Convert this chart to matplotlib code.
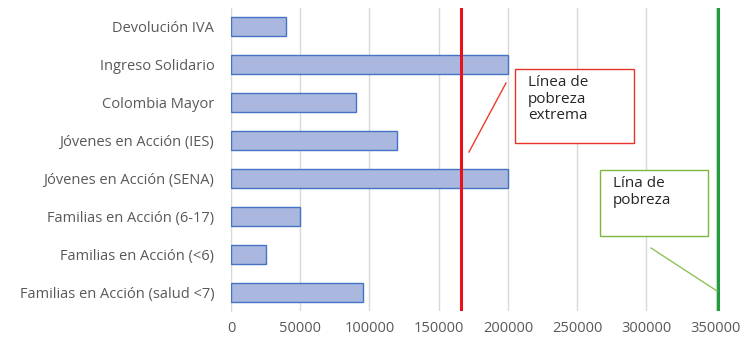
import matplotlib.pyplot as plt
from matplotlib.lines import Line2D
from matplotlib.patches import Rectangle

programas = ['Devolución IVA', 'Ingreso Solidario', 'Colombia Mayor',
             'Jóvenes en Acción (IES)', 'Jóvenes en Acción (SENA)',
             'Familias en Acción (6-17)', 'Familias en Acción (<6)',
             'Familias en Acción (salud <7)']
montos = [40000, 200000, 90000, 120000, 200000, 50000, 25000, 95000]
xticks = [0, 50000, 100000, 150000, 200000, 250000, 300000, 350000]

linea_extrema = 166000
linea_pobreza = 352000

plt.rcParams['font.family'] = ['Open Sans', 'DejaVu Sans']

fig = plt.figure(figsize=(7.46, 3.47), dpi=100)
ax = fig.add_axes([231 / 746, 1 - 311 / 347, 493 / 746, 303 / 347])

y = list(range(len(programas)))
ax.barh(y, montos, height=0.5, color='#AAB8E0', edgecolor='#4472C4', linewidth=1.0, zorder=3)
ax.set_ylim(len(programas) - 0.5, -0.5)
ax.set_xlim(0, 356000)
ax.set_yticks(y)
ax.set_yticklabels(programas)
ax.set_xticks(xticks)
ax.set_xticklabels([str(t) for t in xticks])

ax.grid(axis='x', color='#D9D9D9', linewidth=1, zorder=0)
for s in ['top', 'right', 'bottom']:
    ax.spines[s].set_visible(False)
ax.spines['left'].set_color('#D9D9D9')
ax.tick_params(axis='both', length=0, colors='#595959', labelsize=10.5)
ax.tick_params(axis='y', pad=12)
ax.tick_params(axis='x', pad=7)

ax.axvline(linea_extrema, color='#E8121B', linewidth=2.2, zorder=4)
ax.axvline(linea_pobreza, color='#1E9E3A', linewidth=2.2, zorder=4)

# callout boxes (figure pixel positions)
def px(x, y):
    return x / 746, 1 - y / 347

x0, y0 = px(515, 143)
fig.patches.append(Rectangle((x0, y0), 119 / 746, 74 / 347, transform=fig.transFigure,
                             facecolor='white', edgecolor='#E8322A', linewidth=1))
fig.text(*px(528, 75), 'Línea de\npobreza\nextrema', fontsize=11, color='#262626',
         va='top', ha='left', linespacing=1.15)
fig.lines.append(Line2D([506 / 746, 469 / 746], [1 - 83 / 347, 1 - 152 / 347],
                        transform=fig.transFigure, color='#F03A2E', linewidth=1))

x0, y0 = px(600, 236)
fig.patches.append(Rectangle((x0, y0), 108 / 746, 66 / 347, transform=fig.transFigure,
                             facecolor='white', edgecolor='#7DB53F', linewidth=1))
fig.text(*px(613, 176), 'Lína de\npobreza', fontsize=11, color='#262626',
         va='top', ha='left', linespacing=1.15)
fig.lines.append(Line2D([651 / 746, 717 / 746], [1 - 248 / 347, 1 - 291 / 347],
                        transform=fig.transFigure, color='#8DC35A', linewidth=1))

fig.savefig('out.png', dpi=100)
